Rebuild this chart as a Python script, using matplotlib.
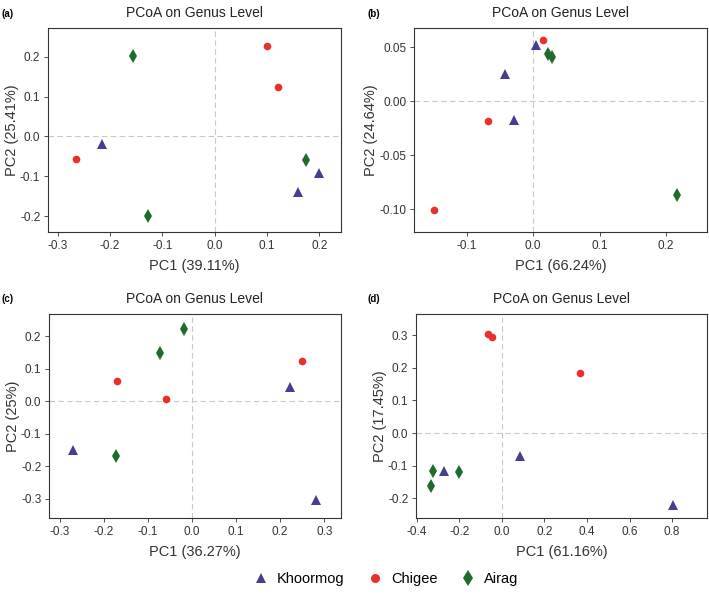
import matplotlib.pyplot as plt
from matplotlib.lines import Line2D

plt.rcParams['font.family'] = ['Liberation Sans', 'DejaVu Sans']

groups = ["Khoormog", "Chigee", "Airag"]
colors = {"Khoormog": "#463f91", "Chigee": "#e8312a", "Airag": "#1f6b2c"}
markers = {"Khoormog": "^", "Chigee": "o", "Airag": "d"}
msize = {"Khoormog": 6.5, "Chigee": 5.5, "Airag": 7}

# panel (a)
a_x = {"Khoormog": [-0.215, 0.159, 0.200], "Chigee": [0.100, 0.122, -0.265], "Airag": [-0.156, -0.127, 0.174]}
a_y = {"Khoormog": [-0.018, -0.139, -0.093], "Chigee": [0.226, 0.124, -0.056], "Airag": [0.202, -0.201, -0.060]}
# panel (b)
b_x = {"Khoormog": [0.005, -0.043, -0.029], "Chigee": [0.015, -0.068, -0.149], "Airag": [0.023, 0.028, 0.217]}
b_y = {"Khoormog": [0.052, 0.025, -0.017], "Chigee": [0.0565, -0.0185, -0.1012], "Airag": [0.0438, 0.0414, -0.087]}
# panel (c)
c_x = {"Khoormog": [0.222, -0.270, 0.281], "Chigee": [0.250, -0.170, -0.058], "Airag": [-0.017, -0.073, -0.171]}
c_y = {"Khoormog": [0.043, -0.150, -0.306], "Chigee": [0.124, 0.0615, 0.008], "Airag": [0.223, 0.149, -0.168]}
# panel (d)
d_x = {"Khoormog": [0.086, -0.273, 0.806], "Chigee": [-0.064, -0.047, 0.367], "Airag": [-0.322, -0.203, -0.333]}
d_y = {"Khoormog": [-0.069, -0.115, -0.221], "Chigee": [0.303, 0.296, 0.185], "Airag": [-0.115, -0.118, -0.163]}

panels = [
    ("(a)", a_x, a_y, "PC1 (39.11%)", "PC2 (25.41%)", (-0.3185, 0.2415), (-0.240, 0.272),
     [-0.3, -0.2, -0.1, 0.0, 0.1, 0.2], [-0.2, -0.1, 0.0, 0.1, 0.2], "%.1f", "%.1f"),
    ("(b)", b_x, b_y, "PC1 (66.24%)", "PC2 (24.64%)", (-0.1794, 0.2618), (-0.1213, 0.0679),
     [-0.1, 0.0, 0.1, 0.2], [-0.10, -0.05, 0.00, 0.05], "%.1f", "%.2f"),
    ("(c)", c_x, c_y, "PC1 (36.27%)", "PC2 (25%)", (-0.324, 0.338), (-0.360, 0.269),
     [-0.3, -0.2, -0.1, 0.0, 0.1, 0.2, 0.3], [-0.3, -0.2, -0.1, 0.0, 0.1, 0.2], "%.1f", "%.1f"),
    ("(d)", d_x, d_y, "PC1 (61.16%)", "PC2 (17.45%)", (-0.403, 0.964), (-0.260, 0.365),
     [-0.4, -0.2, 0.0, 0.2, 0.4, 0.6, 0.8], [-0.2, -0.1, 0.0, 0.1, 0.2, 0.3], "%.1f", "%.1f"),
]

# axes boxes in pixels: left, right, top, bottom ; panel label position
boxes = [(48, 341, 28, 232), (414, 707, 28, 232), (49, 341, 314, 518), (416, 707, 314, 518)]
label_pos = [(2, 14), (367, 14), (2, 299), (368, 299)]
W, H = 709, 598

fig = plt.figure(figsize=(W / 100, H / 100), dpi=100)
for (lab, xs, ys, xl, yl, xlim, ylim, xt, yt, xf, yf), (l, r, t, b), (lx, ly) in zip(panels, boxes, label_pos):
    ax = fig.add_axes([l / W, 1 - b / H, (r - l) / W, (b - t) / H])
    ax.axhline(0, color="#c8c8c8", lw=0.8, ls=(0, (5, 3)), zorder=0)
    ax.axvline(0, color="#c8c8c8", lw=0.8, ls=(0, (5, 3)), zorder=0)
    for g in groups:
        ax.plot(xs[g], ys[g], ls="none", marker=markers[g], color=colors[g],
                markersize=msize[g], markeredgewidth=0)
    ax.set_xlim(*xlim)
    ax.set_ylim(*ylim)
    ax.set_xticks(xt)
    ax.set_yticks(yt)
    ax.set_xticklabels([xf % v for v in xt])
    ax.set_yticklabels([yf % v for v in yt])
    ax.tick_params(labelsize=8.5, colors="#333333", length=3, width=0.6, pad=2.5)
    for s in ax.spines.values():
        s.set_color("#333333")
        s.set_linewidth(0.8)
    ax.set_xlabel(xl, fontsize=10.5, color="#333333", labelpad=5)
    ax.set_ylabel(yl, fontsize=10.5, color="#333333", labelpad=1)
    ax.set_title("PCoA on Genus Level", fontsize=10, color="#222222", pad=8)
    fig.text(lx / W, 1 - ly / H, lab, fontsize=7, fontweight="bold", va="center", ha="left")

handles = [Line2D([], [], ls="none", marker=markers[g], color=colors[g],
                  markersize=msize[g] + 1, markeredgewidth=0) for g in groups]
fig.legend(handles, groups, loc="center", bbox_to_anchor=(386 / W, 1 - 579 / H), ncol=3,
           frameon=False, fontsize=10.5, handlelength=1.0, handletextpad=0.6, columnspacing=1.6)

fig.savefig("out.png", dpi=100)
